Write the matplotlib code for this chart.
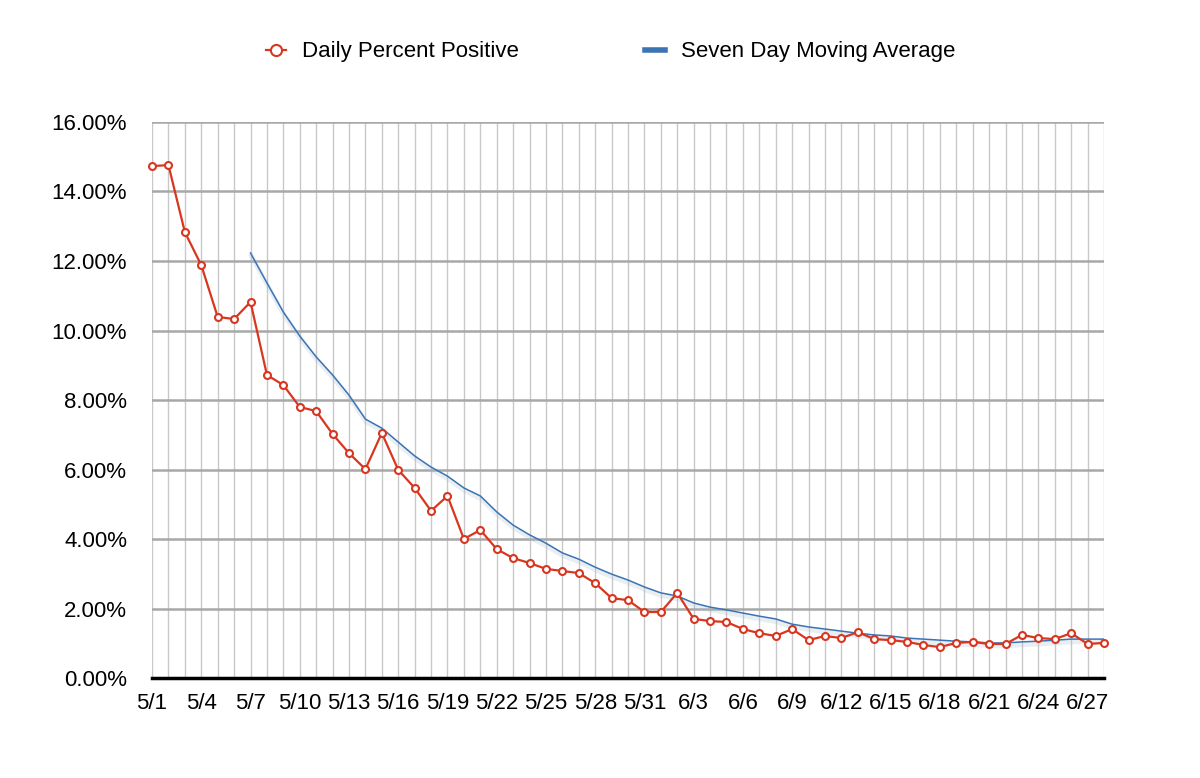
import numpy as np
import pandas as pd
import matplotlib
matplotlib.use("Agg")
import matplotlib.pyplot as plt
import matplotlib.patheffects as pe
from matplotlib.lines import Line2D
from matplotlib.ticker import FuncFormatter

plt.rcParams['font.family'] = ['Liberation Sans', 'DejaVu Sans']

days = pd.date_range("2020-05-01", "2020-06-28")
day_labels = [f"{d.month}/{d.day}" for d in days]

# daily percent positive
daily = [14.73, 14.76, 12.83, 11.88, 10.39, 10.33, 10.82, 8.72, 8.43, 7.80,
         7.68, 7.02, 6.47, 6.01, 7.05, 5.99, 5.47, 4.81, 5.24, 4.00,
         4.26, 3.71, 3.45, 3.31, 3.14, 3.08, 3.02, 2.73, 2.30, 2.24,
         1.90, 1.90, 2.45, 1.70, 1.64, 1.61, 1.41, 1.29, 1.21, 1.41,
         1.09, 1.21, 1.15, 1.32, 1.12, 1.09, 1.04, 0.95, 0.89, 1.01,
         1.04, 0.98, 0.98, 1.24, 1.15, 1.12, 1.29, 0.98, 1.01]

# seven day moving average, starts on 5/7
avg = [np.nan] * 6 + [
    12.23, 11.37, 10.53, 9.84, 9.24, 8.72, 8.14, 7.45, 7.19, 6.79,
    6.39, 6.07, 5.81, 5.47, 5.24, 4.78, 4.40, 4.12, 3.88, 3.60,
    3.42, 3.19, 2.99, 2.82, 2.62, 2.45, 2.36, 2.16, 2.04, 1.96,
    1.87, 1.78, 1.70, 1.55, 1.47, 1.41, 1.35, 1.29, 1.24, 1.21,
    1.15, 1.12, 1.09, 1.06, 1.04, 1.01, 1.01, 1.04, 1.06, 1.09,
    1.12, 1.12, 1.12]

red = '#d9361f'
blue = '#3b73b4'

fig = plt.figure(figsize=(12, 7.78), dpi=100)
ax = fig.add_axes([0.1267, 0.1285, 0.7933, 0.7147])

x = np.arange(len(days))
ax.plot(x, avg, color=blue, lw=1.1, zorder=3,
        path_effects=[pe.SimpleLineShadow(offset=(0.5, -2), shadow_color='#a9bdd0',
                                          alpha=0.25, linewidth=3.5), pe.Normal()])
ax.plot(x, daily, color=red, lw=1.6, marker='o', ms=5, mfc='white', mec=red,
        mew=1.5, zorder=4, clip_on=False)

ax.set_xlim(0, len(days) - 1)
ax.set_ylim(0, 16)
ax.set_yticks(np.arange(0, 17, 2))
ax.yaxis.set_major_formatter(FuncFormatter(lambda v, p: f"{v:.2f}%"))
ax.set_xticks(x, minor=True)
ax.set_xticks(x[::3])
ax.set_xticklabels(day_labels[::3])

ax.grid(which='minor', axis='x', color='#c8c8c8', lw=1)
ax.grid(which='major', axis='x', color='#c8c8c8', lw=1)
ax.grid(which='major', axis='y', color='#a8a8a8', lw=1.8)
ax.set_axisbelow(True)

for s in ['top', 'right', 'left']:
    ax.spines[s].set_visible(False)
ax.spines['bottom'].set_linewidth(2.5)
ax.spines['bottom'].set_zorder(5)
ax.tick_params(axis='both', which='both', length=0, labelsize=16)
ax.tick_params(axis='x', pad=11)
ax.tick_params(axis='y', pad=18)

handles = [Line2D([], [], color=red, lw=1.6, marker='o', ms=8, mfc='white', mec=red, mew=1.5),
           Line2D([], [], color=blue, lw=4)]
fig.legend(handles, ['Daily Percent Positive', 'Seven Day Moving Average'],
           loc='center', bbox_to_anchor=(0.509, 1 - 52 / 778), ncol=2, frameon=False,
           fontsize=16, handlelength=0.9, columnspacing=5.7, handletextpad=0.7)

fig.savefig('out.png', dpi=100)
